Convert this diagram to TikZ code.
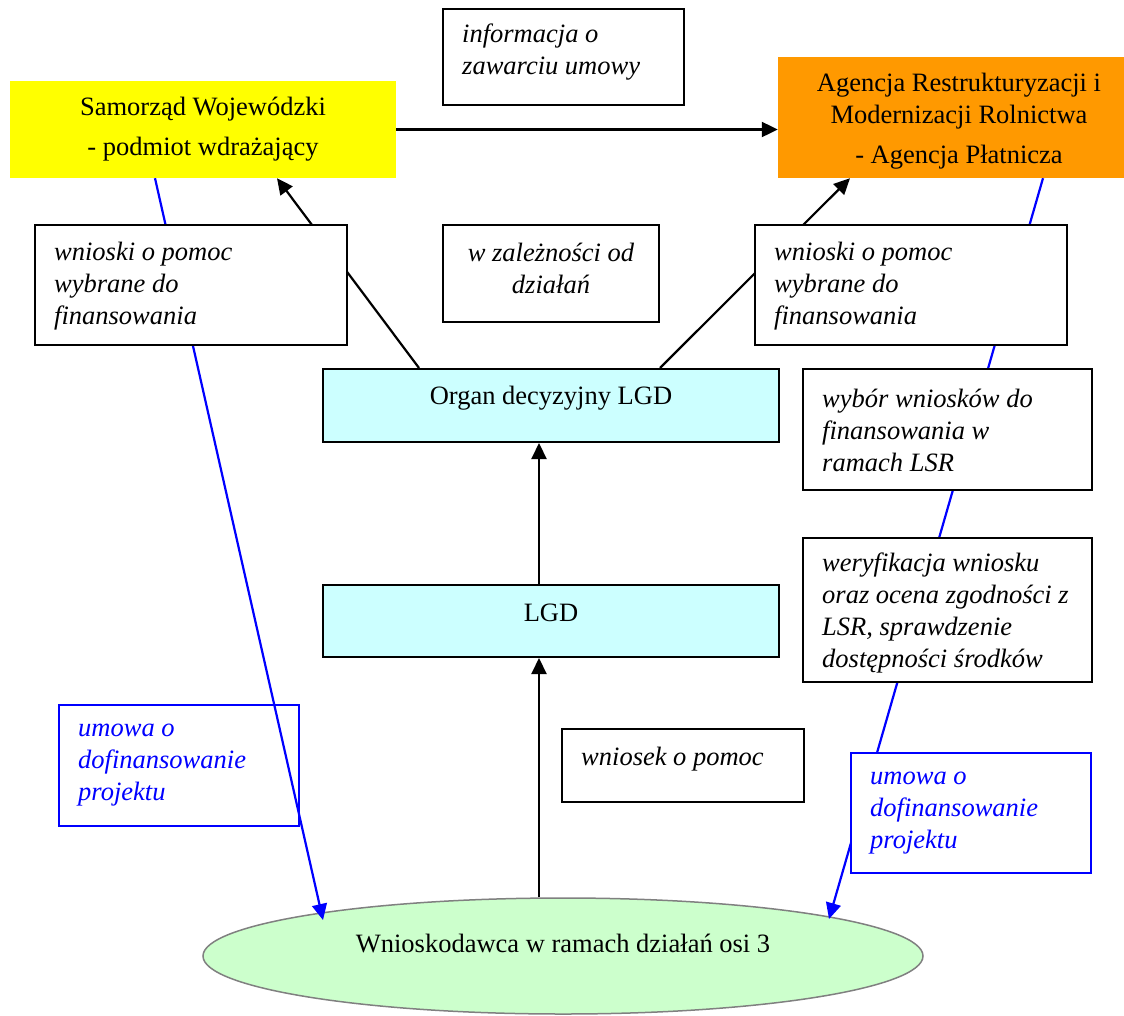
\documentclass[tikz,border=0pt]{standalone}
\usepackage{fontspec}
\setmainfont{Liberation Serif}
\usetikzlibrary{arrows.meta,calc,shapes.geometric,backgrounds}
\definecolor{cyanbg}{HTML}{CCFFFF}
\definecolor{greenbg}{HTML}{CCFFCC}
\definecolor{yellowbg}{HTML}{FFFF00}
\definecolor{orangebg}{HTML}{FF9900}
\definecolor{linkblue}{HTML}{0000FF}
\begin{document}
\begin{tikzpicture}[x=1pt,y=-1pt,
  txt/.style={inner sep=0pt, font=\fontsize{26.5pt}{32pt}\selectfont, align=left},
  itxt/.style={inner sep=0pt, font=\fontsize{26.5pt}{32pt}\selectfont\itshape, align=left},
  box/.style={rectangle, draw=black, line width=2pt, fill=white, inner sep=0pt},
  cbox/.style={box, fill=cyanbg},
  bbox/.style={rectangle, draw=linkblue, line width=2pt, inner sep=0pt},
  arr/.style={draw=black, line width=2.2pt, -{Triangle[length=16pt,width=15pt]}},
  barr/.style={draw=linkblue, line width=2.2pt, -{Triangle[length=16pt,width=15pt]}}
]
\useasboundingbox (0,0) rectangle (1124,1015);

% boxes
\node[box, minimum width=241pt, minimum height=96pt] (info) at (563.5,57) {};
\node[itxt, anchor=west] (infoT) at ($(info.west)+(20,-5)$) {informacja o\\zawarciu umowy};

\node[rectangle, fill=yellowbg, inner sep=0pt, minimum width=386pt, minimum height=97pt] (sam) at (203,129.5) {};
\node[txt, align=center] (samT) at (sam.center) {Samorząd Wojewódzki\\[8pt]- podmiot wdrażający};

\node[rectangle, fill=orangebg, inner sep=0pt, minimum width=362pt, minimum height=121pt] (arimr) at (959,117.5) {};
\node[txt, align=center] (arimrT) at ($(arimr.center)+(0,3.5)$) {Agencja Restrukturyzacji i\\Modernizacji Rolnictwa\\[8pt]- Agencja Płatnicza};

\node[box, minimum width=312pt, minimum height=120pt] (wl) at (191,285) {};
\node[itxt, anchor=west] (wlT) at ($(wl.west)+(20,1)$) {wnioski o pomoc\\wybrane do\\finansowania};

\node[box, minimum width=216pt, minimum height=97pt] (wz) at (551,273.5) {};
\node[itxt, align=center] (wzT) at ($(wz.center)+(0,-5)$) {w zależności od\\działań};

\node[box, minimum width=312pt, minimum height=120pt] (wr) at (911,285) {};
\node[itxt, anchor=west] (wrT) at ($(wr.west)+(20,1)$) {wnioski o pomoc\\wybrane do\\finansowania};

\node[cbox, minimum width=456pt, minimum height=73pt] (organ) at (551,405.5) {};
\node[txt] (organT) at ($(organ.center)+(0,-7.5)$) {Organ decyzyjny LGD};

\node[box, minimum width=289pt, minimum height=121pt] (wybor) at (947.5,429.5) {};
\node[itxt, anchor=west] (wyborT) at ($(wybor.west)+(20,0.5)$) {wybór wniosków do\\finansowania w\\ramach LSR};

\node[box, minimum width=289pt, minimum height=144pt] (weryf) at (947.5,610) {};
\node[itxt, anchor=west] (weryfT) at ($(weryf.west)+(20,3)$) {weryfikacja wniosku\\oraz ocena zgodności z\\LSR, sprawdzenie\\dostępności środków};

\node[cbox, minimum width=456pt, minimum height=72pt] (lgd) at (551,621) {};
\node[txt] (lgdT) at ($(lgd.center)+(0,-8)$) {LGD};

\node[box, minimum width=242pt, minimum height=73pt] (wniosek) at (683,765.5) {};
\node[itxt, anchor=west] (wniosekT) at ($(wniosek.west)+(20,-6.5)$) {wniosek o pomoc};

\node[bbox, minimum width=240pt, minimum height=121pt] (ul) at (179,765.5) {};
\node[itxt, anchor=west, text=linkblue] (ulT) at ($(ul.west)+(20,0)$) {umowa o\\dofinansowanie\\projektu};

\node[bbox, fill=white, minimum width=240pt, minimum height=120pt] (ur) at (971,813) {};
\node[itxt, anchor=west, text=linkblue] (urT) at ($(ur.west)+(20,0.5)$) {umowa o\\dofinansowanie\\projektu};

\begin{scope}[on background layer]
\node[ellipse, draw=gray, line width=1.5pt, fill=greenbg, inner sep=0pt, minimum width=720pt, minimum height=116pt] (wn) at (563,956) {};
% connectors
\draw[arr] (sam.east) -- (sam.east -| arimr.west);
\draw[arr] ($(organ.north)+(-132,0)$) -- ($(sam.south)+(74,0)$);
\draw[arr] ($(organ.north)+(109,0)$) -- ($(arimr.south)+(-109,0)$);
\draw[arr] ($(lgd.north)+(-12,0)$) -- ($(organ.south)+(-12,0)$);
\draw[arr] ($(wn.north)+(-24,0)$) -- ($(lgd.south)+(-12,0)$);
\draw[barr] ($(sam.south)+(-48,0)$) -- ($(wn.center)+(-240,-36)$);
\draw[barr] ($(arimr.south)+(84,0)$) -- ($(wn.center)+(266,-37)$);
\end{scope}

\node[txt] (wnT) at ($(wn.center)+(0,-13)$) {Wnioskodawca w ramach działań osi 3};
\end{tikzpicture}
\end{document}
